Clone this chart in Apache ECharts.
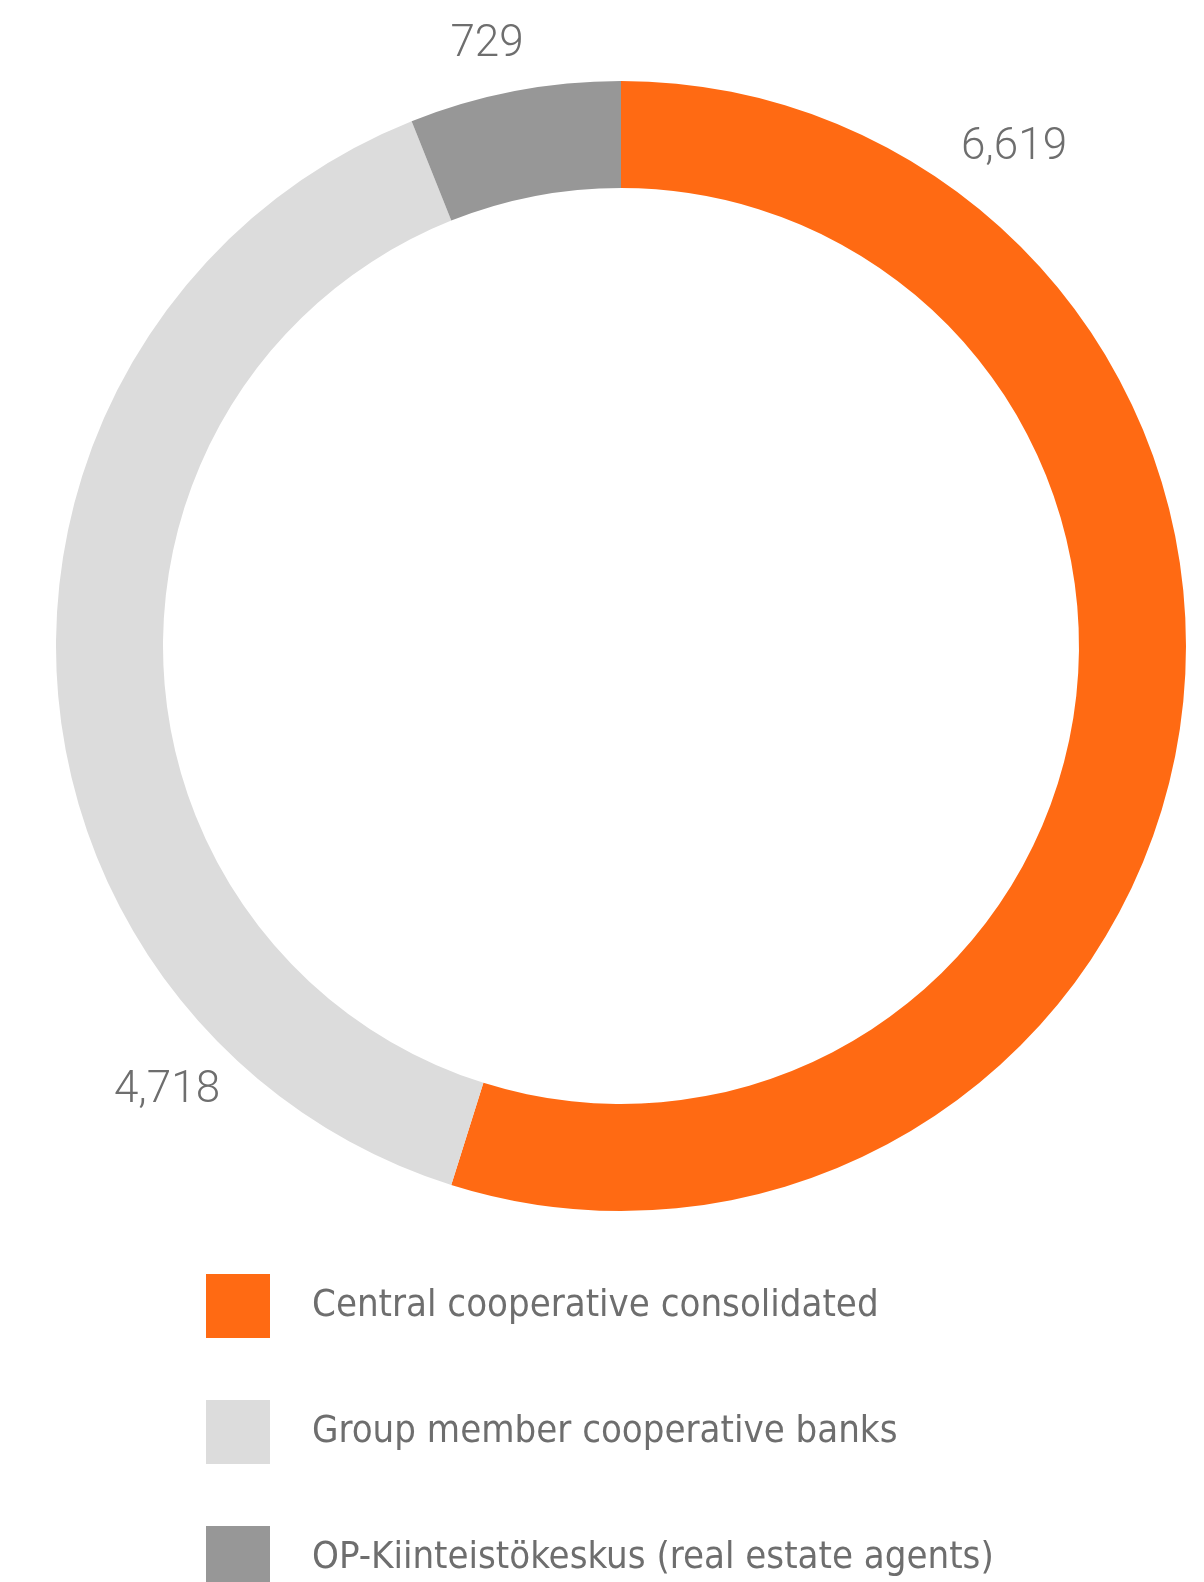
<!DOCTYPE html>
<html><head><meta charset="utf-8">
<script src="https://cdn.jsdelivr.net/npm/echarts@6/dist/echarts.min.js"></script>
<style>html,body{margin:0;padding:0;background:#fff;overflow:hidden}#c{width:100vw;height:100vh}</style>
</head><body><div id="c"></div>
<script>
const categories = ['Central cooperative consolidated', 'Group member cooperative banks', 'OP-Kiinteistökeskus (real estate agents)'];
const values = [6619, 4718, 729];
const valueLabels = ['6,619', '4,718', '729'];

const colors = ['#ff6a13', '#dcdcdc', '#979797'];
const labelPos = [[1014, 148], [167, 1091], [487, 45]];

const chart = echarts.init(document.getElementById('c'), null, {renderer: 'canvas'});
chart.setOption({
  animation: false,
  color: colors,
  legend: {
    orient: 'vertical',
    left: 206,
    top: 1274,
    padding: 0,
    height: 600,
    itemWidth: 64,
    itemHeight: 64,
    itemGap: 62,
    icon: 'rect',
    textStyle: {fontFamily: '"DejaVu Sans Condensed", "Roboto"', fontWeight: 300, fontSize: 38, color: '#6e6e6e', padding: [18, 0, 0, 37]},
    data: categories
  },
  series: [{
    type: 'pie',
    center: [621, 646],
    radius: [458, 565],
    startAngle: 90,
    clockwise: true,
    avoidLabelOverlap: false,
    label: {
      show: true,
      position: 'outside',
      formatter: p => valueLabels[p.dataIndex],
      fontFamily: 'Roboto',
      fontWeight: 300,
      fontSize: 44,
      color: '#6e6e6e'
    },
    labelLine: {show: false},
    labelLayout: p => ({x: labelPos[p.dataIndex][0], y: labelPos[p.dataIndex][1], align: 'center', verticalAlign: 'middle'}),
    emphasis: {disabled: true},
    data: categories.map((n, i) => ({name: n, value: values[i]}))
  }]
});
</script></body></html>
